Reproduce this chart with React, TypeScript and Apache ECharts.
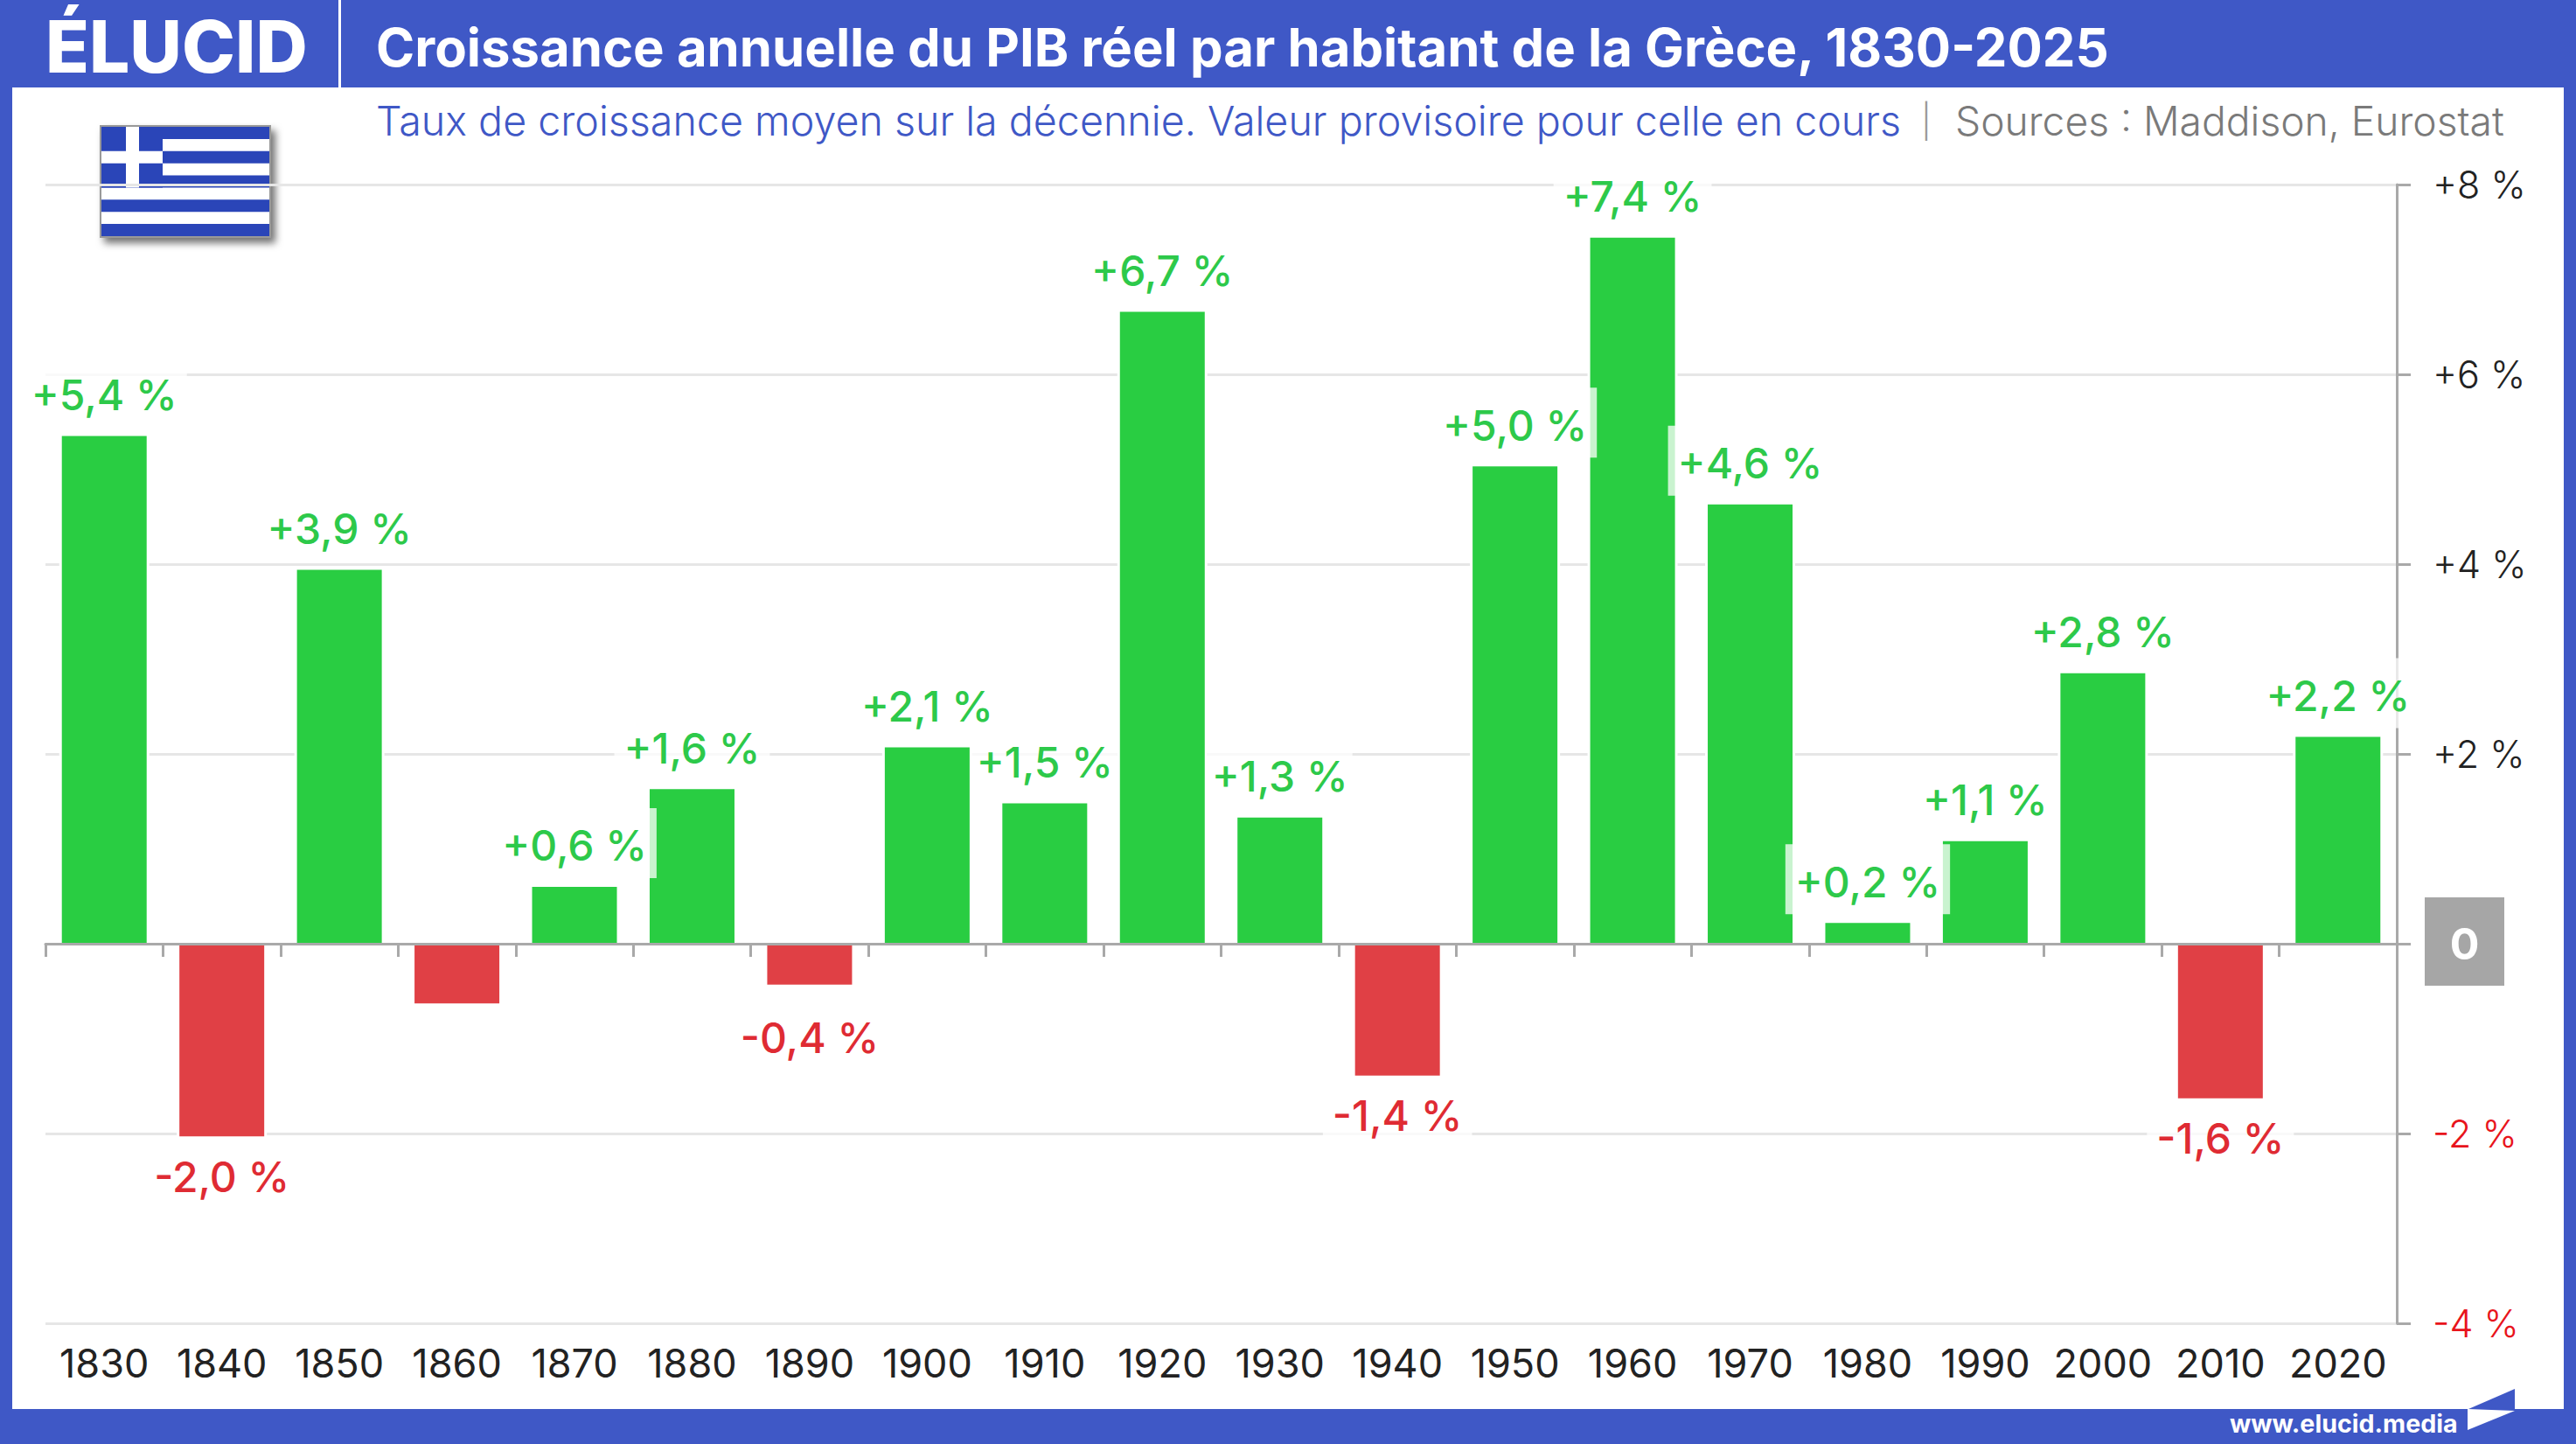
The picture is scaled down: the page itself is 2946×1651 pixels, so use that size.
import React, { useEffect, useRef } from "react";
import * as echarts from "echarts";

const decades = ["1830","1840","1850","1860","1870","1880","1890","1900","1910","1920","1930","1940","1950","1960","1970","1980","1990","2000","2010","2020"];
const growth = [5.35,-2.03,3.94,-0.63,0.6,1.63,-0.43,2.07,1.48,6.66,1.33,-1.39,5.03,7.44,4.63,0.22,1.08,2.85,-1.63,2.18];
const growthLabels = ["+5,4 %","-2,0 %","+3,9 %","-0,6 %","+0,6 %","+1,6 %","-0,4 %","+2,1 %","+1,5 %","+6,7 %","+1,3 %","-1,4 %","+5,0 %","+7,4 %","+4,6 %","+0,2 %","+1,1 %","+2,8 %","-1,6 %","+2,2 %"];
// La valeur -0,6 % n'a pas d'étiquette sur l'original.
const hiddenLabels = ["1860"];
const tightLabels = ["1910", "1930"];
const yTickLabels: Record<string, string> = { "8": "+8 %", "6": "+6 %", "4": "+4 %", "2": "+2 %", "-2": "-2 %", "-4": "-4 %", "0": "" };

const titleText = "Croissance annuelle du PIB réel par habitant de la Grèce, 1830-2025";
const subtitleText = "Taux de croissance moyen sur la décennie. Valeur provisoire pour celle en cours";
const sourceText = "Sources : Maddison, Eurostat";

const BLUE = "#3f58c6";
const GREEN = "#29cd42";
const RED = "#e04045";
const GREEN_TEXT = "#2dc94a";
const RED_TEXT = "#df2b33";
const FONT = "Inter";

function flag() {
  const x = 116, y = 145, w = 192, h = 125, s = h / 9;
  const blue = "#2a45b8";
  const c: any[] = [
    { type: "rect", shape: { x: x - 1, y: y - 1, width: w + 2, height: h + 2 }, style: { fill: "#ffffff", stroke: "#999999", lineWidth: 2, shadowBlur: 8, shadowColor: "rgba(0,0,0,0.55)", shadowOffsetX: 5, shadowOffsetY: 6 } },
  ];
  for (let i = 0; i < 9; i += 2) c.push({ type: "rect", shape: { x, y: y + i * s, width: w, height: s }, style: { fill: blue } });
  c.push({ type: "rect", shape: { x, y, width: 70, height: 5 * s }, style: { fill: blue } });
  c.push({ type: "rect", shape: { x: x + 28, y, width: 15, height: 5 * s }, style: { fill: "#ffffff" } });
  c.push({ type: "rect", shape: { x, y: y + 2 * s, width: 70, height: s }, style: { fill: "#ffffff" } });
  return { type: "group", z: 50, children: c };
}

export default function App() {
  const ref = useRef<HTMLDivElement>(null);
  useEffect(() => {
    document.body.style.margin = "0";
    const chart = echarts.init(ref.current!, null, { renderer: "svg", width: 2946, height: 1651 });
    chart.setOption({
      animation: false,
      backgroundColor: BLUE,
      textStyle: { fontFamily: FONT },
      grid: { left: 52, right: 205, top: 211, bottom: 138, containLabel: false },
      xAxis: [
        {
          type: "category", data: decades, z: 3,
          axisLine: { onZero: true, lineStyle: { color: "#a9a9a9", width: 3 } },
          axisTick: { show: true, interval: 0, alignWithLabel: false, length: 15, lineStyle: { color: "#a9a9a9", width: 3 } },
          axisLabel: { show: false },
          splitLine: { show: false },
        },
        {
          type: "category", data: decades, position: "bottom",
          axisLine: { show: false, onZero: false },
          axisTick: { show: false },
          axisLabel: { color: "#222222", fontSize: 45, fontFamily: FONT, margin: 23, interval: 0 },
        },
      ],
      yAxis: {
        type: "value", position: "right", min: -4, max: 8, interval: 2,
        axisLine: { show: true, lineStyle: { color: "#a9a9a9", width: 3 } },
        axisTick: { show: true, length: 16, lineStyle: { color: "#a9a9a9", width: 3 } },
        splitLine: { show: true, lineStyle: { color: "#e6e6e6", width: 3 } },
        axisLabel: {
          margin: 41, fontSize: 43, fontFamily: FONT, fontWeight: 300,
          color: (v: any) => (Number(v) < 0 ? "#e8141c" : "#222222"),
          formatter: (v: number) => yTickLabels[String(v)],
        },
      },
      series: [
        // liseré blanc autour des barres, qui interrompt le quadrillage
        {
          type: "bar", xAxisIndex: 1, yAxisIndex: 0, barWidth: 103, z: 1, silent: true,
          data: growth,
          itemStyle: { color: "#ffffff" },
        },
        {
          type: "bar", xAxisIndex: 0, yAxisIndex: 0, barWidth: 97, z: 2,
          data: growth.map((v, i) => {
            const side = tightLabels.includes(decades[i]) ? 5 : 11;
            return {
              value: v,
              itemStyle: { color: v >= 0 ? GREEN : RED },
              label: {
                show: !hiddenLabels.includes(decades[i]),
                position: v >= 0 ? "top" : "bottom",
                distance: v >= 0 ? 10 : decades[i] === "1890" ? 21 : 6,
                padding: v >= 0 ? [13, side, 7, side] : [10, side, 10, side],
                color: v >= 0 ? GREEN_TEXT : RED_TEXT,
              },
            };
          }),
          label: {
            show: true,
            formatter: (p: any) => growthLabels[p.dataIndex],
            fontFamily: FONT, fontSize: 48, fontWeight: 500,
            backgroundColor: "rgba(255,255,255,0.75)",
            lineHeight: 60,
          },
        },
      ],
      graphic: [
        { type: "rect", z: -10, silent: true, shape: { x: 14, y: 100, width: 2918, height: 1511 }, style: { fill: "#ffffff" } },
        { type: "rect", z: 10, shape: { x: 387, y: 0, width: 3, height: 100 }, style: { fill: "#ffffff" } },
        { type: "text", z: 10, x: 52, y: 53, style: { text: "ÉLUCID", fill: "#ffffff", font: `800 82px ${FONT}`, verticalAlign: "middle" } },
        { type: "text", z: 10, x: 430, y: 54, style: { text: titleText, fill: "#ffffff", font: `700 59.8px ${FONT}`, verticalAlign: "middle" } },
        { type: "text", z: 10, x: 430, y: 138, style: { text: subtitleText, fill: BLUE, font: `300 46.6px ${FONT}`, verticalAlign: "middle" } },
        { type: "text", z: 10, x: 2197, y: 138, style: { text: "|", fill: "#999999", font: `300 38px ${FONT}`, verticalAlign: "middle" } },
        { type: "text", z: 10, x: 2236, y: 138, style: { text: sourceText, fill: "#7a7a7a", font: `300 46.2px ${FONT}`, verticalAlign: "middle" } },
        { type: "rect", z: 10, shape: { x: 2773, y: 1026, width: 91, height: 101 }, style: { fill: "#a6a6a6" } },
        { type: "text", z: 11, x: 2818.5, y: 1079, style: { text: "0", fill: "#ffffff", font: `700 50px ${FONT}`, align: "center", verticalAlign: "middle" } },
        { type: "text", z: 10, x: 2550, y: 1627, style: { text: "www.elucid.media", fill: "#ffffff", font: `700 28.6px ${FONT}`, verticalAlign: "middle" } },
        { type: "polygon", z: 10, shape: { points: [[2823, 1611], [2876, 1588], [2876, 1611]] }, style: { fill: BLUE } },
        { type: "polygon", z: 10, shape: { points: [[2822, 1611], [2876, 1613], [2822, 1635]] }, style: { fill: "#ffffff" } },
        flag(),
      ],
    });
    return () => chart.dispose();
  }, []);
  return <div ref={ref} style={{ position: "absolute", left: 0, top: 0, width: 2946, height: 1651 }} />;
}
